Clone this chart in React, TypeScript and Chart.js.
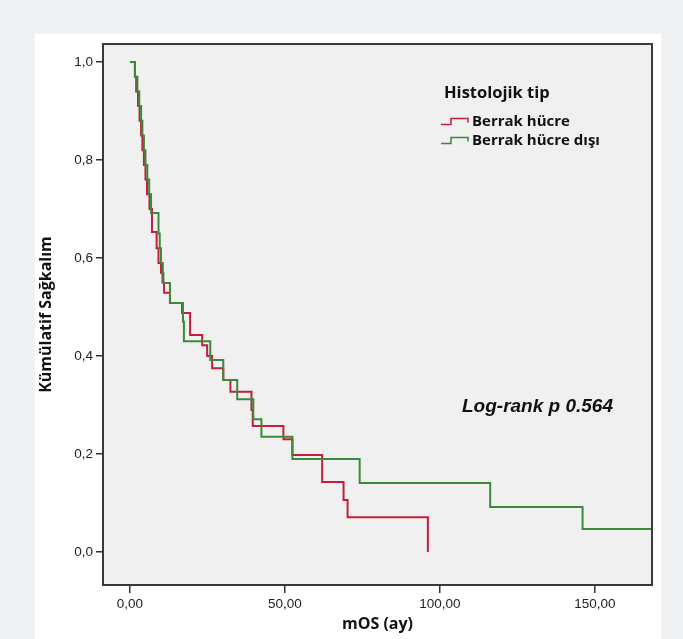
import React, { useEffect, useRef } from 'react';
import { Chart, registerables } from 'chart.js';

Chart.register(...registerables);

// Kaplan-Meier estimates (time in months, cumulative survival)
const redTimes = [0, 1.6, 2.0, 2.6, 3.1, 3.6, 4.0, 4.5, 5.0, 5.5, 6.3, 7.1, 8.6, 9.2, 10.0, 10.5, 11.0, 12.9, 16.8, 19.4, 23.3, 24.9, 26.5, 30.1, 32.4, 39.2, 39.6, 49.5, 52.4, 62.0, 68.9, 70.2, 96.1];
const redSurv = [1.0, 0.97, 0.94, 0.91, 0.88, 0.85, 0.82, 0.79, 0.76, 0.73, 0.70, 0.653, 0.62, 0.59, 0.57, 0.55, 0.529, 0.508, 0.488, 0.443, 0.422, 0.40, 0.375, 0.351, 0.327, 0.29, 0.257, 0.23, 0.198, 0.143, 0.106, 0.071, 0.0];

const greenTimes = [0, 1.6, 2.4, 3.0, 3.6, 4.0, 4.5, 5.0, 5.6, 6.2, 6.8, 9.2, 9.6, 10.0, 10.6, 10.8, 12.9, 17.1, 17.4, 25.9, 30.1, 34.6, 39.8, 42.4, 52.4, 74.1, 116.2, 146.0, 168.4];
const greenSurv = [1.0, 0.97, 0.94, 0.91, 0.88, 0.85, 0.82, 0.79, 0.76, 0.73, 0.692, 0.65, 0.62, 0.59, 0.57, 0.549, 0.508, 0.47, 0.43, 0.392, 0.351, 0.312, 0.271, 0.235, 0.19, 0.141, 0.092, 0.047, 0.047];

const seriesNames = ['Berrak hücre', 'Berrak hücre dışı'];
const seriesColors = ['#c41e3a', '#3a8a3a'];
const legendTitle = 'Histolojik tip';
const annotationText = 'Log-rank p 0.564';
const xTicks = [0, 50, 100, 150];
const yTicks = [0, 0.2, 0.4, 0.6, 0.8, 1.0];
const xTitle = 'mOS (ay)';
const yTitle = 'Kümülatif Sağkalım';

const HUM = '"Open Sans", "Noto Sans", sans-serif';
const ARIAL = '"Liberation Sans", Arial, sans-serif';

const decor = {
  id: 'decor',
  beforeDraw(chart: any) {
    const { ctx, chartArea: a } = chart;
    ctx.save();
    ctx.fillStyle = '#f0f1f3';
    ctx.fillRect(0, 0, chart.width, chart.height);
    ctx.fillStyle = '#ffffff';
    ctx.fillRect(35, 34, 626, 605);
    ctx.fillStyle = '#f0f0f0';
    ctx.fillRect(a.left, a.top, a.right - a.left, a.bottom - a.top);
    ctx.restore();
  },
  afterDraw(chart: any) {
    const { ctx, chartArea: a } = chart;
    ctx.save();
    ctx.strokeStyle = '#3a3a3a';
    ctx.lineWidth = 2;
    ctx.strokeRect(a.left, a.top, a.right - a.left, a.bottom - a.top);

    // legend
    ctx.fillStyle = '#111';
    ctx.textBaseline = 'middle';
    ctx.textAlign = 'left';
    ctx.font = `bold 16.5px ${HUM}`;
    ctx.fillText(legendTitle, 444, 93);
    ctx.font = `bold 15px ${HUM}`;
    const rows = [122, 141];
    rows.forEach((y, i) => {
      ctx.strokeStyle = seriesColors[i];
      ctx.lineWidth = 1.5;
      ctx.beginPath();
      ctx.moveTo(441, y + 2.5);
      ctx.lineTo(451, y + 2.5);
      ctx.lineTo(451, y - 3.5);
      ctx.lineTo(468, y - 3.5);
      ctx.lineTo(468, y + 0.5);
      ctx.stroke();
      ctx.fillStyle = '#111';
      ctx.fillText(seriesNames[i], 472, y);
    });

    // annotation
    ctx.font = `italic bold 19px ${ARIAL}`;
    ctx.fillStyle = '#111';
    ctx.fillText(annotationText, 462, 407);
    ctx.restore();
  },
};

export default function App() {
  const ref = useRef<HTMLCanvasElement>(null);
  useEffect(() => {
    if (!ref.current) return;
    const red = redTimes.map((t, i) => ({ x: t, y: redSurv[i] }));
    const green = greenTimes.map((t, i) => ({ x: t, y: greenSurv[i] }));
    const chart = new Chart(ref.current, {
      type: 'line',
      data: {
        datasets: [
          {
            label: seriesNames[1],
            data: green,
            borderColor: seriesColors[1],
            borderWidth: 2,
            pointRadius: 0,
            stepped: 'before',
            fill: false,
          },
          {
            label: seriesNames[0],
            data: red,
            borderColor: seriesColors[0],
            borderWidth: 2,
            pointRadius: 0,
            stepped: 'before',
            fill: false,
          },
        ],
      },
      options: {
        animation: false,
        responsive: false,
        events: [],
        layout: { padding: { top: 44, right: 31, left: 0, bottom: 0 } },
        plugins: { legend: { display: false }, tooltip: { enabled: false } },
        scales: {
          x: {
            type: 'linear',
            min: -8.7,
            max: 168.4,
            afterBuildTicks: (s: any) => {
              s.ticks = xTicks.map((v) => ({ value: v }));
            },
            afterFit: (s: any) => {
              s.height = 54;
            },
            ticks: {
              callback: (v: any) => Number(v).toFixed(2).replace('.', ','),
              font: { family: ARIAL, size: 13.5 },
              color: '#222',
              padding: 3,
              maxRotation: 0,
            },
            grid: { display: true, drawOnChartArea: false, drawTicks: true, tickLength: 8, color: '#333', lineWidth: 1.5 },
            border: { display: false },
            title: {
              display: true,
              text: xTitle,
              font: { family: HUM, size: 16, weight: 'bold' },
              color: '#111',
              padding: { top: 0, bottom: 5 },
            },
          },
          y: {
            type: 'linear',
            min: -0.0673,
            max: 1.0367,
            afterBuildTicks: (s: any) => {
              s.ticks = yTicks.map((v) => ({ value: v }));
            },
            afterFit: (s: any) => {
              s.width = 103;
            },
            ticks: {
              callback: (v: any) => Number(v).toFixed(1).replace('.', ','),
              font: { family: ARIAL, size: 13.5 },
              color: '#222',
              padding: 3,
            },
            grid: { display: true, drawOnChartArea: false, drawTicks: true, tickLength: 7, color: '#333', lineWidth: 1.5 },
            border: { display: false },
            title: {
              display: true,
              text: yTitle,
              font: { family: HUM, size: 16, weight: 'bold' },
              color: '#111',
              padding: { top: 37, bottom: 0 },
            },
          },
        },
      },
      plugins: [decor],
    } as any);
    return () => chart.destroy();
  }, []);
  return (
    <div style={{ position: 'absolute', left: 0, top: 0, width: 683, height: 639 }}>
      <canvas ref={ref} width={683} height={639} />
    </div>
  );
}
